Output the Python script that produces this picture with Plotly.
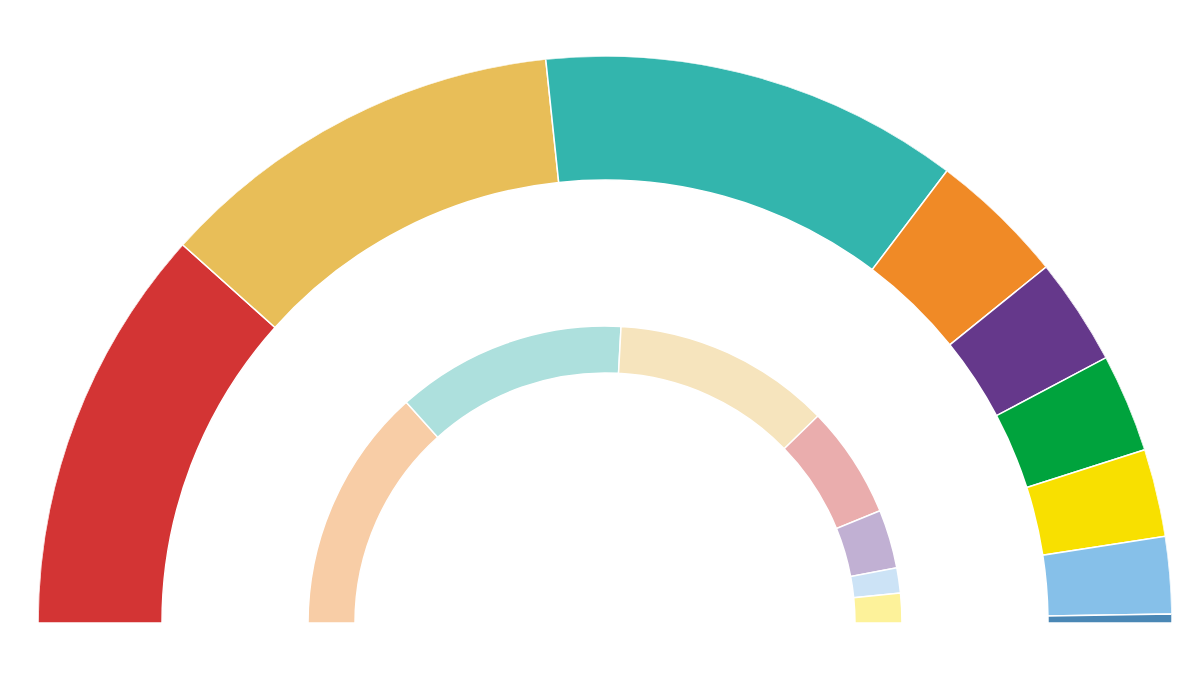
import numpy as np
import plotly.graph_objects as go

# outer ring shares (degrees of the half circle), left to right
outer_shares = [41.85, 42.15, 43.1, 14.0, 11.0, 10.1, 9.0, 7.9, 0.9]
outer_colors = ["#D33434", "#E8BE58", "#33B5AD", "#F08A26", "#65388B",
                "#00A33D", "#F8E000", "#86C0E9", "#4A87B5"]

# inner ring shares, left to right
inner_shares = [48.0, 45.1, 42.7, 22.0, 11.5, 4.9, 5.8]
inner_colors = ["#F8CDA6", "#ADE0DD", "#F6E4BD", "#EAADAD", "#C1B0D3",
                "#CCE3F6", "#FDF29A"]

R = 567
outer_in, outer_out = 443, 567
inner_in, inner_out = 250, 297


def ring(shares, colors, r0, r1):
    shares = np.array(shares, dtype=float)
    w = shares * 180.0 / shares.sum()
    start = 180 - np.concatenate([[0], np.cumsum(w)[:-1]])
    theta = start - w / 2
    return go.Barpolar(
        r=[r1 - r0] * len(w),
        base=[r0] * len(w),
        theta=theta,
        width=w,
        marker=dict(color=colors, line=dict(color="white", width=1.5)),
        hoverinfo="skip",
        showlegend=False,
    )


fig = go.Figure()
fig.add_trace(ring(outer_shares, outer_colors, outer_in, outer_out))
fig.add_trace(ring(inner_shares, inner_colors, inner_in, inner_out))

fig.update_layout(
    width=1200,
    height=675,
    margin=dict(l=0, r=0, t=0, b=0),
    paper_bgcolor="white",
    polar=dict(
        domain=dict(x=[30 / 1200, 1164 / 1200], y=[60 / 675, 627 / 675]),
        sector=[0, 180],
        bgcolor="white",
        radialaxis=dict(range=[0, R], visible=False),
        angularaxis=dict(visible=False, direction="counterclockwise", rotation=0),
    ),
)

fig.write_html("out.html")
